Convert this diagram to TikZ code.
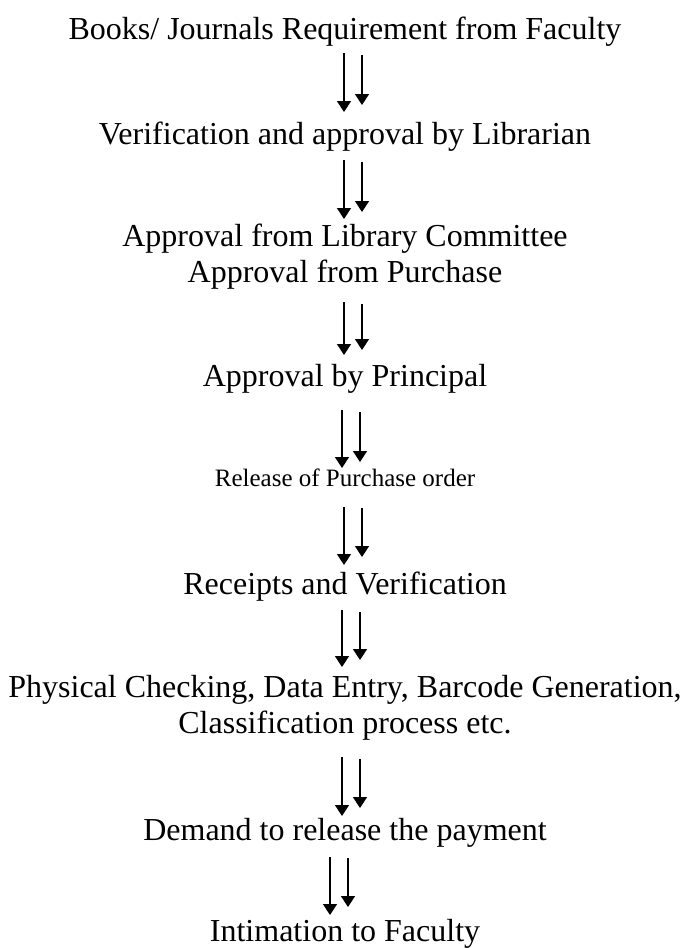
\documentclass[tikz,border=0pt]{standalone}
\usepackage{fontspec}
\setmainfont{Liberation Serif}
\usetikzlibrary{arrows.meta}
\begin{document}
\begin{tikzpicture}[x=1pt,y=-1pt,
  lbl/.style={font=\fontsize{32}{36}\selectfont, inner sep=0pt, anchor=base, align=center},
  lblsmall/.style={font=\fontsize{25}{30}\selectfont, inner sep=0pt, anchor=base},
  arr/.style={line width=1.5pt, -{Triangle[width=14pt,length=11pt]}}]
\useasboundingbox (0,0) rectangle (690,948);

\node[lbl] (t1) at (345,39) {Books/ Journals Requirement from Faculty};
\node[lbl] (t2) at (345,144) {Verification and approval by Librarian};
\node[lbl] (t3) at (345,282) {Approval from Library Committee\\Approval from Purchase};
\node[lbl] (t4) at (345,386) {Approval by Principal};
\node[lblsmall] (t5) at (345,486) {Release of Purchase order};
\node[lbl] (t6) at (345,594) {Receipts and Verification};
\node[lbl] (t7) at (345,733) {Physical Checking, Data Entry, Barcode Generation,\\Classification process etc.};
\node[lbl] (t8) at (345,840) {Demand to release the payment};
\node[lbl] (t9) at (345,941) {Intimation to Faculty};

\foreach \i/\xl/\ya/\yb/\xr/\yc/\yd in {
  1/344/53/112/362/55/105,
  2/344/160/219/362/162/212,
  3/344/302/355/362/304/350,
  4/342/410/468/360/412/462,
  5/344/507/565/362/508/557,
  6/342/610/667/360/612/660,
  7/342/757/816/360/759/808,
  8/330/857/915/348/858/907}{
  \coordinate (l\i s) at (\xl,\ya);
  \coordinate (l\i e) at (\xl,\yb);
  \coordinate (r\i s) at (\xr,\yc);
  \coordinate (r\i e) at (\xr,\yd);
  \draw[arr] (l\i s) -- (l\i e);
  \draw[arr] (r\i s) -- (r\i e);
}
\end{tikzpicture}
\end{document}
